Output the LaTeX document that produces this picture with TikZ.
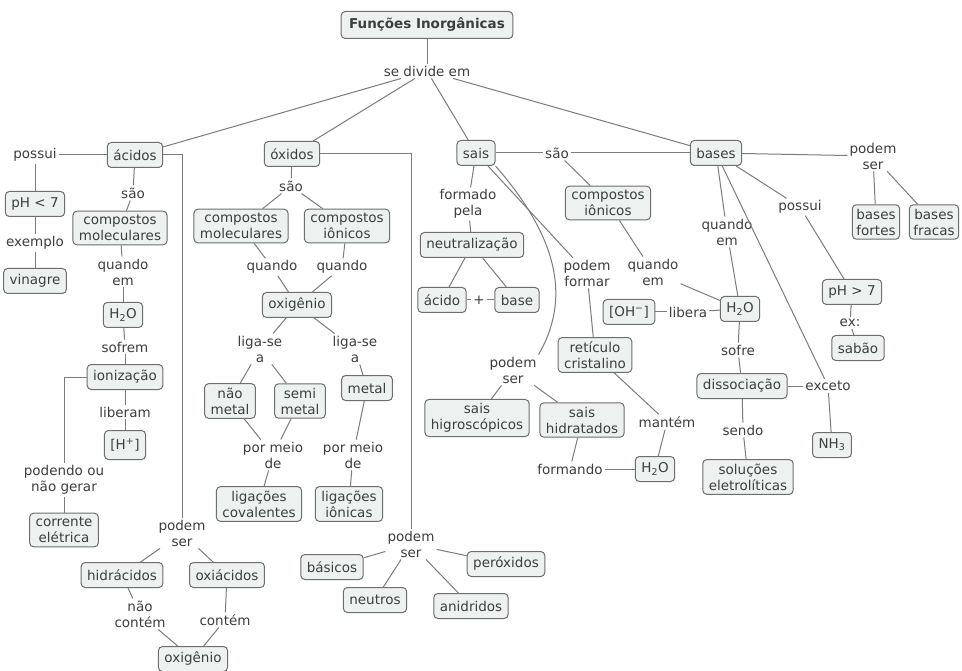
\documentclass[tikz,border=0pt]{standalone}
\usepackage{fontspec}
\setmainfont{DejaVu Sans}
\usepackage{xcolor}
\usepackage{tikz}
\usetikzlibrary{positioning}

\definecolor{conceptfill}{HTML}{EDF2F0}
\definecolor{conceptline}{HTML}{6E6E6E}
\definecolor{linkline}{HTML}{7C7C7C}
\definecolor{inktext}{HTML}{3E3E3E}

\begin{document}
\begin{tikzpicture}[
  x=1pt, y=-1pt,
  font=\fontsize{13.5}{16}\selectfont,
  concept/.style={draw=conceptline, fill=conceptfill, rounded corners=4pt,
    line width=1pt, inner xsep=6pt, inner ysep=4pt, minimum height=25pt,
    align=center, text=inktext},
  root/.style={concept, font=\fontsize{13.5}{16}\selectfont\bfseries, inner xsep=8pt, minimum height=27pt},
  phrase/.style={inner sep=2pt, align=center, text=inktext},
  link/.style={draw=linkline, line width=1pt}
]
  \useasboundingbox[fill=white] (0,0) rectangle (962,671);

  % Root
  \node[root] (title) at (427,25) {Funções Inorgânicas};
  \node[phrase] (divide) at (427,71) {se divide em};

  \node[concept] (acidos) at (135,155) {ácidos};
  \node[concept] (oxidos) at (292,154) {óxidos};
  \node[concept] (sais) at (476,153) {sais};
  \node[concept] (bases) at (716,153) {bases};

  % Acids
  \node[phrase] (possuiA) at (35,155) {possui};
  \node[concept] (phA) at (35,204) {pH < 7};
  \node[phrase] (exemploA) at (35,243) {exemplo};
  \node[concept] (vinagre) at (35,281) {vinagre};
  \node[phrase] (saoA) at (133,193) {são};
  \node[concept] (cmolA) at (120,228) {compostos\\moleculares};
  \node[phrase] (quandoA) at (123,272) {quando\\em};
  \node[concept] (aguaA) at (123,315) {H\textsubscript{2}O};
  \node[phrase] (sofrem) at (125,347) {sofrem};
  \node[concept] (ionizacao) at (125,377) {ionização};
  \node[phrase] (liberam) at (125,412) {liberam};
  \node[concept, minimum height=29pt] (hplus) at (125,445) {[H\textsuperscript{+}]};
  \node[phrase] (podendo) at (64,480) {podendo ou\\não gerar};
  \node[concept] (corrente) at (64,530) {corrente\\elétrica};
  \node[phrase] (podemA) at (182,533) {podem\\ser};
  \node[concept] (hidracidos) at (122,575) {hidrácidos};
  \node[concept] (oxiacidos) at (227,575) {oxiácidos};
  \node[phrase] (naocontem) at (140,614) {não\\contém};
  \node[phrase] (contem) at (225,620) {contém};
  \node[concept] (oxigenioA) at (193,659) {oxigênio};

  % Oxides
  \node[phrase] (saoO) at (291,186) {são};
  \node[concept] (cmolO) at (241,226) {compostos\\moleculares};
  \node[concept] (cionO) at (347,226) {compostos\\iônicos};
  \node[phrase] (quandoL) at (272,267) {quando};
  \node[phrase] (quandoR) at (342,267) {quando};
  \node[concept] (oxigenioO) at (297,305) {oxigênio};
  \node[phrase] (ligaL) at (260,349) {liga-se\\a};
  \node[phrase] (ligaR) at (355,349) {liga-se\\a};
  \node[concept] (naometal) at (230,401) {não\\metal};
  \node[concept] (semimetal) at (300,401) {semi\\metal};
  \node[concept] (metal) at (367,388) {metal};
  \node[phrase] (meioL) at (273,455) {por meio\\de};
  \node[phrase] (meioR) at (353,455) {por meio\\de};
  \node[concept] (covalentes) at (259,504) {ligações\\covalentes};
  \node[concept] (ionicas) at (349,504) {ligações\\iônicas};
  \node[phrase] (podemO) at (411,544) {podem\\ser};
  \node[concept] (basicos) at (332,567) {básicos};
  \node[concept] (neutros) at (375,600) {neutros};
  \node[concept] (anidridos) at (471,606) {anidridos};
  \node[concept] (peroxidos) at (506,564) {peróxidos};

  % Salts
  \node[phrase] (saoS) at (557,153) {são};
  \node[concept] (cionS) at (608,203) {compostos\\iônicos};
  \node[phrase] (formado) at (468,204) {formado\\pela};
  \node[concept] (neutralizacao) at (472,245) {neutralização};
  \node[concept] (acido) at (442,300) {ácido};
  \node[phrase] (mais) at (479,300) {+};
  \node[concept] (base) at (517,300) {base};
  \node[phrase] (podemF) at (587,273) {podem\\formar};
  \node[phrase] (quandoS) at (653,272) {quando\\em};
  \node[concept] (ohminus) at (629,312) {[OH\textsuperscript{−}]};
  \node[phrase] (libera) at (688,312) {libera};
  \node[concept] (aguaB) at (740,309) {H\textsubscript{2}O};
  \node[concept] (reticulo) at (595,355) {retículo\\cristalino};
  \node[phrase] (podemS) at (513,370) {podem\\ser};
  \node[concept] (higro) at (477,418) {sais\\higroscópicos};
  \node[concept] (hidratados) at (582,420) {sais\\hidratados};
  \node[phrase] (mantem) at (667,422) {mantém};
  \node[phrase] (formando) at (570,469) {formando};
  \node[concept] (aguaS) at (655,469) {H\textsubscript{2}O};

  % Bases
  \node[phrase] (podemB) at (873,156) {podem\\ser};
  \node[concept, inner xsep=4pt] (fortes) at (876,222) {bases\\fortes};
  \node[concept, inner xsep=4pt] (fracas) at (934,222) {bases\\fracas};
  \node[phrase] (possuiB) at (800,207) {possui};
  \node[concept] (phB) at (852,292) {pH > 7};
  \node[phrase] (ex) at (850,323) {ex:};
  \node[concept] (sabao) at (858,348) {sabão};
  \node[phrase] (quandoB) at (727,232) {quando\\em};
  \node[phrase] (sofre) at (738,350) {sofre};
  \node[concept] (dissociacao) at (742,386) {dissociação};
  \node[phrase] (exceto) at (828,386) {exceto};
  \node[concept] (nh3) at (832,445) {NH\textsubscript{3}};
  \node[phrase] (sendo) at (743,430) {sendo};
  \node[concept] (solucoes) at (748,477) {soluções\\eletrolíticas};

  % Root links
  \draw[link] (title) -- (divide);
  \draw[link] (divide) -- (acidos);
  \draw[link] (divide) -- (oxidos);
  \draw[link] (divide) -- (sais);
  \draw[link] (divide) -- (bases);

  % Acid links
  \draw[link] (acidos) -- (possuiA);
  \draw[link] (possuiA) -- (phA);
  \draw[link] (phA) -- (exemploA);
  \draw[link] (exemploA) -- (vinagre);
  \draw[link] (acidos) -- (saoA);
  \draw[link] (saoA) -- (cmolA);
  \draw[link] (cmolA) -- (quandoA);
  \draw[link] (quandoA) -- (aguaA);
  \draw[link] (aguaA) -- (sofrem);
  \draw[link] (sofrem) -- (ionizacao);
  \draw[link] (ionizacao) -- (liberam);
  \draw[link] (liberam) -- (hplus);
  \draw[link] (ionizacao.west) -| (podendo.north);
  \draw[link] (podendo) -- (corrente);
  \draw[link] (acidos.east) -| (podemA.north);
  \draw[link] (podemA) -- (hidracidos);
  \draw[link] (podemA) -- (oxiacidos);
  \draw[link] (hidracidos) -- (naocontem);
  \draw[link] (naocontem) -- (oxigenioA);
  \draw[link] (oxiacidos) -- (contem);
  \draw[link] (contem) -- (oxigenioA);

  % Oxide links
  \draw[link] (oxidos) -- (saoO);
  \draw[link] (saoO) -- (cmolO);
  \draw[link] (saoO) -- (cionO);
  \draw[link] (cmolO) -- (quandoL);
  \draw[link] (quandoL) -- (oxigenioO);
  \draw[link] (cionO) -- (quandoR);
  \draw[link] (quandoR) -- (oxigenioO);
  \draw[link] (oxigenioO) -- (ligaL);
  \draw[link] (oxigenioO) -- (ligaR);
  \draw[link] (ligaL) -- (naometal);
  \draw[link] (ligaL) -- (semimetal);
  \draw[link] (ligaR) -- (metal);
  \draw[link] (naometal) -- (meioL);
  \draw[link] (semimetal) -- (meioL);
  \draw[link] (meioL) -- (covalentes);
  \draw[link] (metal) -- (meioR);
  \draw[link] (meioR) -- (ionicas);
  \draw[link] (oxidos.east) -| (podemO.north);
  \draw[link] (podemO) -- (basicos);
  \draw[link] (podemO) -- (neutros);
  \draw[link] (podemO) -- (anidridos);
  \draw[link] (podemO) -- (peroxidos);

  % Salt links
  \draw[link] (sais) -- (saoS);
  \draw[link] (saoS) -- (bases);
  \draw[link] (saoS) -- (cionS);
  \draw[link] (cionS) -- (quandoS);
  \draw[link] (quandoS) -- (aguaB);
  \draw[link] (sais) -- (formado);
  \draw[link] (formado) -- (neutralizacao);
  \draw[link] (neutralizacao) -- (acido);
  \draw[link] (neutralizacao) -- (base);
  \draw[link] (acido) -- (mais);
  \draw[link] (mais) -- (base);
  \draw[link] (sais) -- (podemF);
  \draw[link] (podemF) -- (reticulo);
  \draw[link] (reticulo) -- (mantem);
  \draw[link] (mantem) -- (aguaS);
  \draw[link] (sais.south east) .. controls (560,240) and (570,300) .. (podemS.north east);
  \draw[link] (podemS) -- (higro);
  \draw[link] (podemS) -- (hidratados);
  \draw[link] (hidratados) -- (formando);
  \draw[link] (formando) -- (aguaS);

  % Base links
  \draw[link] (bases) -- (podemB);
  \draw[link] (podemB) -- (fortes);
  \draw[link] (podemB) -- (fracas);
  \draw[link] (bases) -- (possuiB);
  \draw[link] (possuiB) -- (phB);
  \draw[link] (phB) -- (ex);
  \draw[link] (ex) -- (sabao);
  \draw[link] (bases) -- (quandoB);
  \draw[link] (quandoB) -- (aguaB);
  \draw[link] (aguaB) -- (libera);
  \draw[link] (libera) -- (ohminus);
  \draw[link] (aguaB) -- (sofre);
  \draw[link] (sofre) -- (dissociacao);
  \draw[link] (dissociacao) -- (sendo);
  \draw[link] (sendo) -- (solucoes);
  \draw[link] (dissociacao) -- (exceto);
  \draw[link] (exceto) -- (nh3);
  \draw[link] (bases) -- (exceto);
\end{tikzpicture}
\end{document}
